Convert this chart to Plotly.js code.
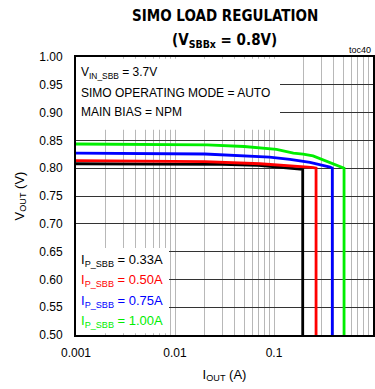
<!DOCTYPE html>
<html>
<head>
<meta charset="utf-8">
<script src="https://cdn.plot.ly/plotly-3.0.1.min.js"></script>
<style>html,body{margin:0;padding:0;background:#fff;}#chart{width:375px;height:389px;}</style>
</head>
<body>
<div id="chart"></div>
<script>
// Data (I_OUT in A, V_OUT in V)
var iBlack = [0.001, 0.01, 0.03, 0.07, 0.12, 0.16, 0.185, 0.195, 0.195];
var vBlack = [0.808, 0.808, 0.807, 0.805, 0.802, 0.800, 0.799, 0.798, 0.5];
var iRed = [0.001, 0.02, 0.072, 0.157, 0.22, 0.25, 0.266, 0.266];
var vRed = [0.8135, 0.812, 0.808, 0.8045, 0.802, 0.801, 0.800, 0.5];
var iBlue = [0.001, 0.02, 0.09, 0.145, 0.231, 0.291, 0.368, 0.388, 0.388];
var vBlue = [0.827, 0.8255, 0.820, 0.816, 0.8106, 0.807, 0.802, 0.800, 0.5];
var iGreen = [0.001, 0.021, 0.05, 0.106, 0.157, 0.197, 0.248, 0.343, 0.486, 0.51, 0.51];
var vGreen = [0.8435, 0.842, 0.839, 0.834, 0.827, 0.8255, 0.822, 0.812, 0.802, 0.800, 0.5];

var seriesNames = ['I<sub>P_SBB</sub> = 0.33A', 'I<sub>P_SBB</sub> = 0.50A', 'I<sub>P_SBB</sub> = 0.75A', 'I<sub>P_SBB</sub> = 1.00A'];
var seriesColors = ['#000000', '#ff0000', '#0000ff', '#00ee00'];

var xGridVals = [];
var xGridText = [];
[0.001, 0.01, 0.1].forEach(function (d) {
  for (var k = 1; k <= 9; k++) {
    xGridVals.push(d * k);
    xGridText.push(k === 1 ? String(d) : '');
  }
});
xGridVals.push(1);
xGridText.push('1');

var FONT = 'Liberation Sans, Arial, sans-serif';
var TFONT = 'DejaVu Sans Condensed, Liberation Sans Narrow, Arial Narrow, Liberation Sans, Arial, sans-serif';

var traces = [
  {x: iBlack, y: vBlack, name: seriesNames[0], color: seriesColors[0]},
  {x: iRed, y: vRed, name: seriesNames[1], color: seriesColors[1]},
  {x: iBlue, y: vBlue, name: seriesNames[2], color: seriesColors[2]},
  {x: iGreen, y: vGreen, name: seriesNames[3], color: seriesColors[3]}
].map(function (s) {
  return {x: s.x, y: s.y, name: s.name, type: 'scatter', mode: 'lines',
          line: {color: s.color, width: 2.8}, showlegend: false, hoverinfo: 'skip'};
});

var annotations = [
  {xref: 'paper', yref: 'paper', x: 0.5, y: 1, xanchor: 'center', yanchor: 'bottom', yshift: 30,
   text: '<b>SIMO LOAD REGULATION</b>', showarrow: false,
   font: {family: TFONT, size: 15, color: '#000'}},
  {xref: 'paper', yref: 'paper', x: 0.5, y: 1, xanchor: 'center', yanchor: 'bottom', yshift: 5,
   text: '<b>(V<sub>SBBx</sub> = 0.8V)</b>', showarrow: false,
   font: {family: TFONT, size: 15, color: '#000'}},
  {xref: 'paper', yref: 'paper', x: 1, y: 1, xanchor: 'right', yanchor: 'bottom', yshift: 0,
   text: 'toc40', showarrow: false, font: {family: FONT, size: 9, color: '#000'}},
  {xref: 'paper', yref: 'paper', x: 0, y: 1, xanchor: 'left', yanchor: 'middle', xshift: 3, yshift: -16,
   text: 'V<sub>IN_SBB</sub> = 3.7V', showarrow: false, font: {family: FONT, size: 12, color: '#000'}},
  {xref: 'paper', yref: 'paper', x: 0, y: 1, xanchor: 'left', yanchor: 'middle', xshift: 3, yshift: -36,
   text: 'SIMO OPERATING MODE = AUTO', showarrow: false, font: {family: FONT, size: 12, color: '#000'}},
  {xref: 'paper', yref: 'paper', x: 0, y: 1, xanchor: 'left', yanchor: 'middle', xshift: 3, yshift: -55,
   text: 'MAIN BIAS = NPM', showarrow: false, font: {family: FONT, size: 12, color: '#000'}}
];
var legendShifts = [75, 55, 34, 14];
for (var i = 0; i < 4; i++) {
  annotations.push({xref: 'paper', yref: 'paper', x: 0, y: 0, xanchor: 'left', yanchor: 'middle',
    xshift: 3, yshift: legendShifts[i], text: seriesNames[i], showarrow: false,
    font: {family: FONT, size: 13, color: seriesColors[i]}});
}

var layout = {
  width: 375, height: 389,
  margin: {l: 76, r: 2, t: 57, b: 54},
  paper_bgcolor: '#fff', plot_bgcolor: '#fff',
  font: {family: FONT, size: 12, color: '#000'},
  xaxis: {
    type: 'log', range: [-3, 0], tickmode: 'array', tickvals: xGridVals, ticktext: xGridText,
    showgrid: true, gridcolor: '#b8b8b8', gridwidth: 1, zeroline: false,
    showline: true, linecolor: '#000', linewidth: 2, mirror: true,
    ticks: 'outside', ticklen: 6, tickcolor: 'rgba(0,0,0,0)',
    tickfont: {family: FONT, size: 12, color: '#000'},
    title: {text: 'I<sub>OUT</sub> (A)', font: {family: FONT, size: 13, color: '#000'}, standoff: 10}
  },
  yaxis: {
    range: [0.5, 1.0], dtick: 0.05, tick0: 0.5, tickformat: '.2f',
    showgrid: true, gridcolor: '#333', gridwidth: 1, zeroline: false,
    showline: true, linecolor: '#000', linewidth: 2, mirror: true,
    ticks: 'outside', ticklen: 9, tickcolor: 'rgba(0,0,0,0)',
    tickfont: {family: FONT, size: 12, color: '#000'},
    title: {text: 'V<sub>OUT</sub> (V)', font: {family: FONT, size: 13, color: '#000'}, standoff: 12}
  },
  shapes: [
    {type: 'rect', layer: 'between', xref: 'x', yref: 'y', x0: 0.001, x1: 0.115, y0: 0.869, y1: 0.997,
     fillcolor: '#fff', line: {width: 0}},
    {type: 'rect', layer: 'between', xref: 'x', yref: 'y', x0: 0.001, x1: 0.0087, y0: 0.503, y1: 0.6565,
     fillcolor: '#fff', line: {width: 0}}
  ],
  annotations: annotations
};

Plotly.newPlot('chart', traces, layout, {staticPlot: true, displayModeBar: false});
</script>
</body>
</html>
